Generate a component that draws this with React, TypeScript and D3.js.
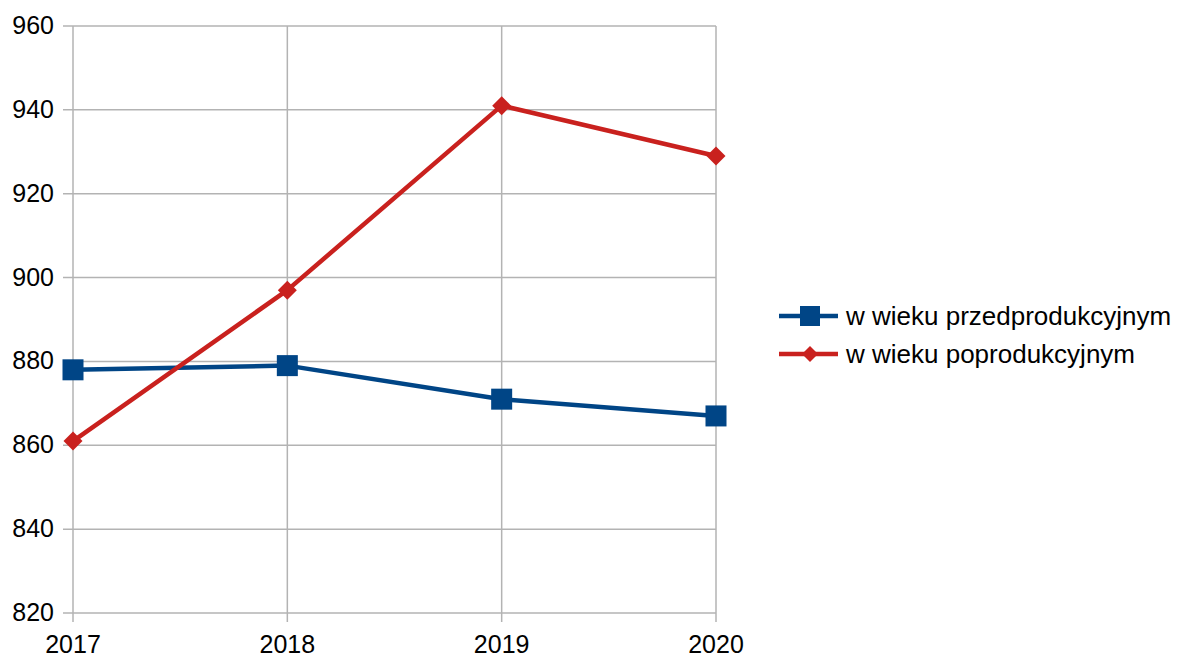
import React from "react";
import * as d3 from "d3";

const years = ["2017", "2018", "2019", "2020"];
const przed = [878, 879, 871, 867];
const popro = [861, 897, 941, 929];
const yTicks = [820, 840, 860, 880, 900, 920, 940, 960];
const seriesNames = ["w wieku przedprodukcyjnym", "w wieku poprodukcyjnym"];
const colors = ["#004586", "#c9211e"];

export default function App() {
  const W = 1184, H = 657;
  const left = 73, right = 716, top = 26, bottom = 613;
  const x = d3.scalePoint<string>().domain(years).range([left, right]);
  const y = d3.scaleLinear().domain([820, 960]).range([bottom, top]);
  const line = d3.line<number>().x((_, i) => x(years[i])!).y((d) => y(d));
  const font = "'Liberation Sans', Arial, sans-serif";
  const diamond = (cx: number, cy: number, r: number) =>
    `M${cx},${cy - r}L${cx + r},${cy}L${cx},${cy + r}L${cx - r},${cy}Z`;
  return (
    <svg width={W} height={H} style={{ position: "absolute", left: 0, top: 0 }}>
      <rect width={W} height={H} fill="#fff" />
      {yTicks.map((t) => (
        <g key={t}>
          <line x1={63} x2={right} y1={y(t)} y2={y(t)} stroke="#b3b3b3" strokeWidth={1.5} />
          <text x={54} y={y(t) + 8} textAnchor="end" fontFamily={font} fontSize={25} fill="#000">
            {t}
          </text>
        </g>
      ))}
      {years.map((yr) => (
        <g key={yr}>
          <line x1={x(yr)} x2={x(yr)} y1={top} y2={bottom + 9} stroke="#b3b3b3" strokeWidth={1.5} />
          <text x={x(yr)} y={653} textAnchor="middle" fontFamily={font} fontSize={25} fill="#000">
            {yr}
          </text>
        </g>
      ))}
      <path d={line(przed)!} fill="none" stroke={colors[0]} strokeWidth={4.5} strokeLinejoin="round" />
      {przed.map((v, i) => (
        <rect key={i} x={x(years[i])! - 10.5} y={y(v) - 10.5} width={21} height={21} fill={colors[0]} />
      ))}
      <path d={line(popro)!} fill="none" stroke={colors[1]} strokeWidth={4.5} strokeLinejoin="round" />
      {popro.map((v, i) => (
        <path key={i} d={diamond(x(years[i])!, y(v), 9.5)} fill={colors[1]} />
      ))}
      {seriesNames.map((n, i) => {
        const ly = 316 + i * 38;
        return (
          <g key={n}>
            <line x1={779} x2={838} y1={ly} y2={ly} stroke={colors[i]} strokeWidth={4.5} />
            {i === 0 ? (
              <rect x={800} y={ly - 10} width={20} height={20} fill={colors[0]} />
            ) : (
              <path d={diamond(810, ly, 8)} fill={colors[1]} />
            )}
            <text x={846} y={ly + 9} fontFamily={font} fontSize={26} fill="#000">
              {n}
            </text>
          </g>
        );
      })}
    </svg>
  );
}
